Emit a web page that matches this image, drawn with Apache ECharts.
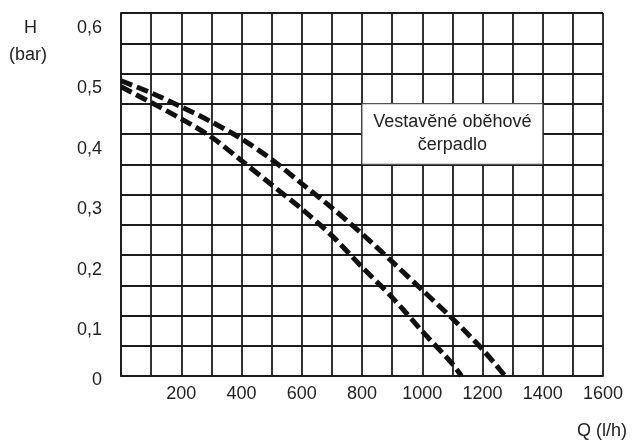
<!DOCTYPE html>
<html>
<head>
<meta charset="utf-8">
<script src="https://cdn.jsdelivr.net/npm/echarts@6/dist/echarts.min.js"></script>
<style>html,body{margin:0;padding:0;background:#fff}#c{width:632px;height:443px}</style>
</head>
<body>
<div id="c"></div>
<script>
// Data (Q in l/h, H in bar)
var upperQ = [0, 100, 200, 300, 400, 500, 600, 700, 800, 900, 1000, 1100, 1200, 1275];
var upperH = [0.488, 0.468, 0.445, 0.420, 0.392, 0.358, 0.318, 0.278, 0.235, 0.189, 0.142, 0.095, 0.044, 0];
var lowerQ = [0, 100, 200, 300, 400, 500, 600, 700, 800, 900, 1000, 1100, 1130];
var lowerH = [0.478, 0.452, 0.425, 0.395, 0.356, 0.316, 0.276, 0.232, 0.180, 0.130, 0.074, 0.020, 0];
var xTickLabels = ['200', '400', '600', '800', '1000', '1200', '1400', '1600'];
var yTickLabels = ['0', '0,1', '0,2', '0,3', '0,4', '0,5', '0,6'];
var noteText = 'Vestavěné oběhové\nčerpadlo';
var noteQ = [800, 1400];
var noteH = [0.35, 0.45];

function pairs(xs, ys) { return xs.map(function (x, i) { return [x, ys[i]]; }); }

var FONT = '"Liberation Sans", Arial, Helvetica, sans-serif';
var TXT = '#222';
var GRID = '#1c1c1c';

var chart = echarts.init(document.getElementById('c'), null, { renderer: 'canvas' });
var dashStyle = { color: '#111', width: 5, type: [12, 5], cap: 'butt' };

chart.setOption({
  animation: false,
  backgroundColor: '#fff',
  textStyle: { fontFamily: FONT },
  grid: { left: 121, right: 29, top: 13, bottom: 67, containLabel: false },
  xAxis: {
    type: 'value', min: 0, max: 1600, interval: 100,
    axisLine: { show: true, lineStyle: { color: GRID, width: 1.8 } },
    axisTick: { show: false },
    splitLine: { show: true, lineStyle: { color: GRID, width: 1.8 } },
    axisLabel: {
      margin: 9, fontSize: 18, color: TXT, fontFamily: FONT,
      showMinLabel: true, showMaxLabel: true,
      formatter: function (v) {
        var i = Math.round(v / 200) - 1;
        if (v % 200 !== 0 || i < 0) return '';
        return xTickLabels[i];
      }
    }
  },
  yAxis: {
    type: 'value', min: 0, max: 0.6, interval: 0.05,
    axisLine: { show: true, lineStyle: { color: GRID, width: 1.8 } },
    axisTick: { show: false },
    splitLine: { show: true, lineStyle: { color: GRID, width: 1.8 } },
    axisLabel: {
      margin: 19, fontSize: 18, color: TXT, fontFamily: FONT,
      showMinLabel: true, showMaxLabel: true,
      formatter: function (v) {
        var k = Math.round(v * 100);
        if (k % 10 !== 0) return '';
        var i = k / 10;
        return i === 0 ? '{z|' + yTickLabels[i] + '}' : '{a|' + yTickLabels[i] + '}';
      },
      rich: {
        a: { fontSize: 18, color: TXT, fontFamily: FONT, padding: [30, 0, 0, 0] },
        z: { fontSize: 18, color: TXT, fontFamily: FONT, padding: [8, 0, 0, 0] }
      }
    }
  },
  series: [
    {
      type: 'line', data: pairs(upperQ, upperH), showSymbol: false, symbol: 'none',
      smooth: 0.3, lineStyle: dashStyle, z: 3
    },
    {
      type: 'line', data: pairs(lowerQ, lowerH), showSymbol: false, symbol: 'none',
      smooth: 0.3, lineStyle: dashStyle, z: 3,
      markArea: {
        silent: true,
        itemStyle: { color: '#fff', borderColor: '#555', borderWidth: 1 },
        label: {
          show: true, position: 'inside', color: TXT, fontSize: 18,
          fontFamily: FONT, lineHeight: 23, align: 'center'
        },
        data: [[
          { name: noteText, xAxis: noteQ[0], yAxis: noteH[1] },
          { xAxis: noteQ[1], yAxis: noteH[0] }
        ]]
      }
    }
  ],
  graphic: [
    { type: 'text', left: 24, top: 19, style: { text: 'H', fontSize: 18, fill: TXT, fontFamily: FONT } },
    { type: 'text', left: 9, top: 46, style: { text: '(bar)', fontSize: 18, fill: TXT, fontFamily: FONT } },
    { type: 'text', right: 5, top: 422, style: { text: 'Q (l/h)', fontSize: 18, fill: TXT, fontFamily: FONT } }
  ]
});
</script>
</body>
</html>
